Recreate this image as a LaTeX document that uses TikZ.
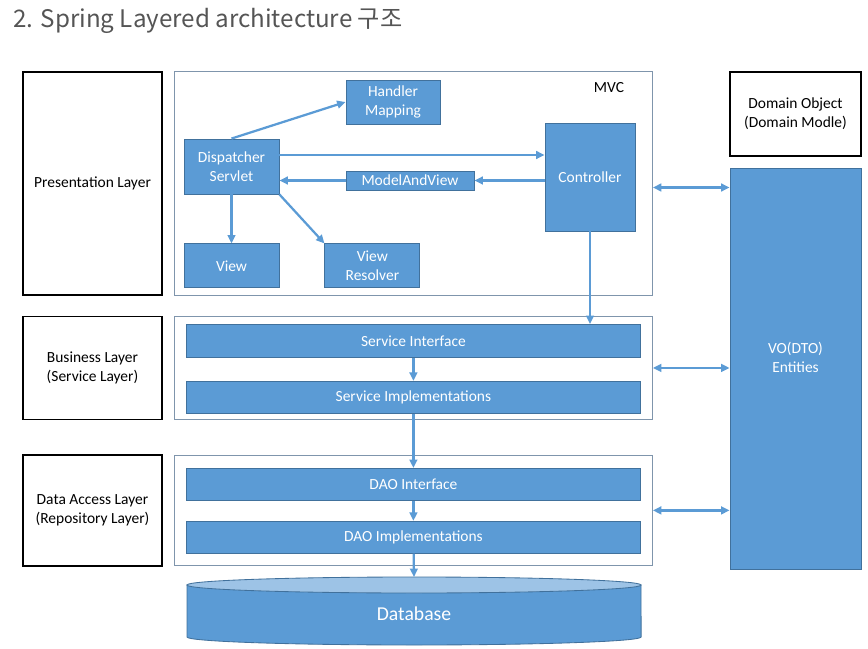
\documentclass[tikz,border=0pt]{standalone}
\usepackage{fontspec}
\setmainfont{Carlito}
\newfontfamily\cjk{Noto Sans CJK KR}
\usetikzlibrary{arrows.meta,positioning,calc}
\definecolor{boxblue}{HTML}{5B9BD5}
\definecolor{boxedge}{HTML}{41719C}
\definecolor{lightblue}{HTML}{9DC3E6}
\definecolor{groupedge}{HTML}{7F95AC}
\definecolor{titlegray}{HTML}{555555}

\begin{document}
\begin{tikzpicture}[x=0.025cm, y=-0.025cm,
	every node/.style={font=\fontsize{11}{13.5}\selectfont, align=center, inner sep=0pt},
	layer/.style={draw, rectangle, line width=1pt, minimum width=3.475cm},
	group/.style={draw=groupedge, rectangle, line width=0.6pt, minimum width=11.95cm},
	part/.style={draw=boxedge, fill=boxblue, rectangle, line width=0.6pt, text=white},
	bar/.style={part, minimum width=11.35cm, minimum height=0.8cm},
	flow/.style={->, >={Triangle[length=6pt,width=5.5pt]}, draw=boxblue, line width=1.6pt}]
		\useasboundingbox (0,0) rectangle (868,649);
		
		\node[anchor=base west, text=titlegray, font=\cjk\fontsize{17.2}{20}\selectfont] (title) at (13,28) {2. Spring Layered architecture 구조};
		
		% layers
		\node[layer, minimum height=5.575cm] (pres) at (92.5,183.5) {Presentation Layer};
		\node[layer, minimum height=2.575cm, below=0.5cm of pres] (bus) {Business Layer\\(Service Layer)};
		\node[layer, minimum height=2.775cm, below=0.85cm of bus] (dal) {Data Access Layer\\(Repository Layer)};
		
		\node[group, minimum height=5.6cm, right=0.28cm of pres] (mvc) {};
		\node[group, minimum height=2.575cm, right=0.28cm of bus] (svc) {};
		\node[group, minimum height=2.75cm, right=0.28cm of dal] (dao) {};
		\node (mvclabel) at (609,88) {MVC};
		
		% MVC
		\node[part, minimum width=2.35cm, minimum height=1.1cm] (hm) at (393,102) {Handler\\Mapping};
		\node[part, minimum width=2.375cm, minimum height=1.375cm] (disp) at (231.5,166.5) {Dispatcher\\Servlet};
		\node[part, minimum width=2.25cm, minimum height=2.7cm] (ctrl) at (590,177) {Controller};
		\node[part, minimum width=3.2cm, minimum height=0.475cm] (mav) at (410,180.5) {ModelAndView};
		\node[part, minimum width=2.375cm, minimum height=1.1cm, below=1.225cm of disp] (view) {View};
		\node[part, minimum width=2.375cm, minimum height=1.1cm, right=1.125cm of view] (vr) {View\\Resolver};
		
		% service and dao
		\node[bar, minimum height=0.825cm, below=0.2cm of svc.north] (sif) {Service Interface};
		\node[bar, below=0.575cm of sif] (simpl) {Service Implementations};
		\node[bar, below=0.325cm of dao.north] (daoif) {DAO Interface};
		\node[bar, below=0.5cm of daoif] (daoimpl) {DAO Implementations};
		
		% database
		\coordinate (dbtop) at (414,577);
		\draw[boxedge, fill=boxblue, line width=0.6pt] (187,585) -- (187,637) arc[start angle=180, end angle=360, x radius=5.675cm, y radius=0.2cm] -- (641,585) -- cycle;
		\draw[boxedge, fill=lightblue, line width=0.6pt] (414,585) ellipse[x radius=5.675cm, y radius=0.2cm];
		\node[text=white, font=\fontsize{14}{16}\selectfont] (db) at (414,614) {Database};
		
		% right side
		\node[layer, minimum width=3.275cm, minimum height=2.1cm] (dom) at (795.5,114) {Domain Object\\(Domain Modle)};
		\node[part, minimum width=3.275cm, minimum height=10.025cm, below=0.275cm of dom] (vo) {};
		\node[text=white] (vot) at (795.5,357) {VO(DTO)\\Entities};
		
		\draw[flow] (disp.north) -- (hm.west);
		\draw[flow] ([yshift=0.2875cm]disp.east) -- ([yshift=0.2875cm]disp.east -| ctrl.west);
		\draw[flow] (mav.east -| ctrl.west) -- (mav.east);
		\draw[flow] (mav.west) -- (mav.west -| disp.east);
		\draw[flow] (disp) -- (view);
		\draw[flow] (disp.south east) -- (vr.north west);
		\draw[flow] (ctrl.south) -- (ctrl.south |- sif.north);
		\draw[flow] (sif) -- (simpl);
		\draw[flow] (simpl) -- (daoif);
		\draw[flow] (daoif) -- (daoimpl);
		\draw[flow] (daoimpl) -- (dbtop);
		
		\draw[flow, <->] ([yshift=-0.1cm]mvc.east) -- ([yshift=-0.1cm]mvc.east -| vo.west);
		\draw[flow, <->] (svc.east) -- (svc.east -| vo.west);
		\draw[flow, <->] (dao.east) -- (dao.east -| vo.west);
		\end{tikzpicture}
\end{document}
